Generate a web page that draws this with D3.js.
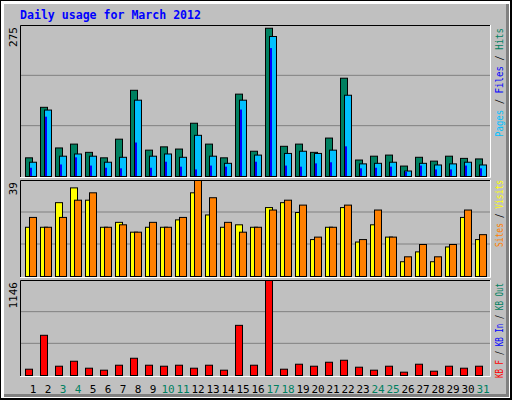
<!DOCTYPE html>
<html><head><meta charset="utf-8">
<script src="https://cdn.jsdelivr.net/npm/d3@7"></script>
<style>body{margin:0;background:#fff}text{font-family:"DejaVu Sans Mono",monospace}</style>
</head><body>
<svg id="c" width="512" height="400"></svg>
<script>
var days = d3.range(1, 32);
var weekend = [3, 4, 10, 11, 17, 18, 24, 25, 31];
var hits  = [34,126,52,59,44,34,68,157,48,54,50,97,59,34,150,46,270,55,59,44,70,179,30,37,39,19,35,28,37,33,32];
var files = [26,121,37,41,37,26,35,139,37,41,35,75,37,24,139,39,255,42,46,42,48,148,23,24,26,10,24,21,23,26,21];
var pages = [15,108,21,34,19,15,14,61,15,26,17,12,19,17,121,26,233,19,17,23,25,54,14,15,17,8,19,12,12,19,14];
var visits = [20,20,30,36,31,20,22,18,20,20,23,34,25,20,21,20,28,30,26,15,20,28,14,21,16,6,10,6,12,24,15];
var sites  = [24,20,24,31,34,20,21,18,22,20,24,39,32,22,18,20,27,31,29,16,20,29,15,27,16,8,13,8,13,27,17];
var kbytes = [76,485,112,172,88,64,124,208,124,112,124,88,124,64,605,124,1146,76,136,112,160,184,100,64,112,40,136,52,112,88,112];

var svg = d3.select('#c');
svg.append('rect').attr('width', 512).attr('height', 400).attr('fill', '#000');
svg.append('rect').attr('x', 1).attr('y', 1).attr('width', 509).attr('height', 397).attr('fill', '#fff');
svg.append('rect').attr('x', 4).attr('y', 4).attr('width', 505).attr('height', 393).attr('fill', '#808080');
svg.append('rect').attr('x', 4).attr('y', 4).attr('width', 502).attr('height', 390).attr('fill', '#c0c0c0');

svg.append('text').attr('x', 20).attr('y', 19).attr('fill', '#0000ff')
  .attr('font-size', 12).attr('font-weight', 'bold')
  .attr('textLength', 181).attr('lengthAdjust', 'spacingAndGlyphs')
  .text('Daily usage for March 2012');

var x = d3.scaleBand().domain(days).range([25, 490]);

function panel(top, bottom, max, label) {
  var y = d3.scaleLinear().domain([0, max]).range([bottom, top]);
  var g = svg.append('g');
  g.append('rect').attr('x', 20).attr('y', top).attr('width', 471).attr('height', bottom - top + 1)
    .attr('fill', '#c0c0c0');
  [max / 3, max * 2 / 3].forEach(function(v) {
    g.append('line').attr('x1', 21).attr('x2', 490).attr('y1', y(v)).attr('y2', y(v))
      .attr('stroke', '#808080').attr('stroke-width', 1);
  });
  g.append('path').attr('d', 'M20.5,' + (bottom + 1) + 'V' + (top + 0.5) + 'H490.5')
    .attr('fill', 'none').attr('stroke', '#000');
  g.append('path').attr('d', 'M490.5,' + top + 'V' + (bottom + 1.5) + 'H20')
    .attr('fill', 'none').attr('stroke', '#fff');
  svg.append('text').attr('transform', 'translate(17,' + (top + 2) + ') rotate(-90)')
    .attr('text-anchor', 'end').attr('font-size', 11).attr('fill', '#000').text(label);
  return y;
}

function bars(y, data, dx, w, color) {
  svg.append('g').selectAll('rect').data(data).enter().append('rect')
    .attr('x', function(d, i) { return x(days[i]) + dx + 0.5; })
    .attr('y', function(d) { return y(d) + 0.5; })
    .attr('width', w)
    .attr('height', function(d) { return y(0) - y(d); })
    .attr('fill', color).attr('stroke', '#000').attr('stroke-width', 1);
}

var y1 = panel(25, 176, 275, '275');
bars(y1, hits, 0, 7, '#008060');
bars(y1, files, 4, 7, '#00c0ff');
svg.append('g').selectAll('rect').data(pages).enter().append('rect')
  .attr('x', function(d, i) { return x(days[i]) + 5; })
  .attr('y', function(d) { return y1(d); })
  .attr('width', 2)
  .attr('height', function(d) { return y1(0) - y1(d); })
  .attr('fill', '#0000ff');

var y2 = panel(180, 276, 39, '39');
bars(y2, visits, 0, 7, '#ffff00');
bars(y2, sites, 4, 7, '#ff8000');

var y3 = panel(280, 375, 1146, '1146');
bars(y3, kbytes, 0, 7, '#ff0000');

svg.append('g').selectAll('text').data(days).enter().append('text')
  .attr('x', function(d) { return x(d) + 8; })
  .attr('y', 393)
  .attr('text-anchor', 'middle').attr('font-size', 11)
  .attr('fill', function(d) { return weekend.indexOf(d) >= 0 ? '#008060' : '#000'; })
  .text(function(d) { return d; });

// right-side legends, read bottom to top; end of text sits at y0
function legend(y0, len, parts) {
  var t = svg.append('text').attr('transform', 'translate(503,' + y0 + ') rotate(-90)')
    .attr('text-anchor', 'end').attr('font-size', 10)
    .attr('textLength', len).attr('lengthAdjust', 'spacingAndGlyphs');
  parts.forEach(function(p, i) {
    if (i > 0) t.append('tspan').attr('fill', '#000').text(' / ');
    t.append('tspan').attr('fill', p[1]).text(p[0]);
  });
}
legend(28, 109, [['Pages', '#00c0ff'], ['Files', '#0000ff'], ['Hits', '#008060']]);
legend(180, 67, [['Sites', '#ff8000'], ['Visits', '#ffff00']]);
legend(283, 95, [['KB F', '#ff0000'], ['KB In', '#0000ff'], ['KB Out', '#008060']]);
</script>
</body></html>
